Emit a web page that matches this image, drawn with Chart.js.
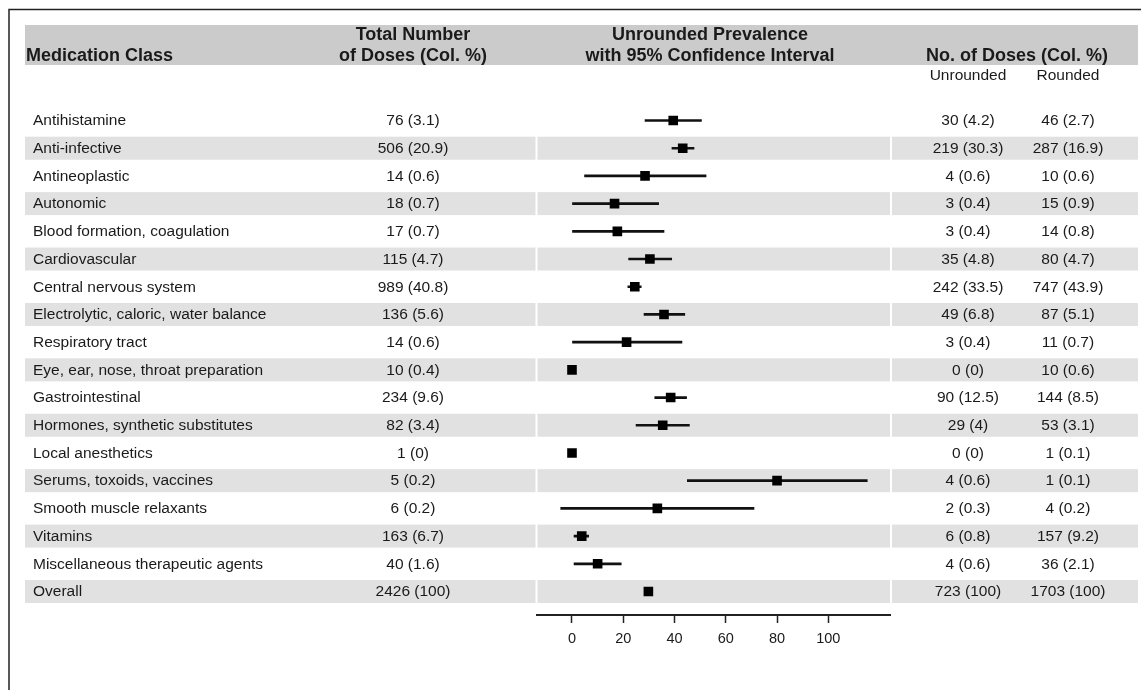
<!DOCTYPE html>
<html>
<head>
<meta charset="utf-8">
<script src="https://cdn.jsdelivr.net/npm/chart.js@4.4.1/dist/chart.umd.min.js"></script>
<style>
    html, body { margin: 0; padding: 0; background: #ffffff; }
    #wrap { position: relative; width: 1141px; height: 690px; }
</style>
</head>
<body>
<div id="wrap"><canvas id="forestChart"></canvas></div>
<script>
// Table rows (top to bottom)
const categories = [
    'Antihistamine', 'Anti-infective', 'Antineoplastic', 'Autonomic',
    'Blood formation, coagulation', 'Cardiovascular', 'Central nervous system',
    'Electrolytic, caloric, water balance', 'Respiratory tract',
    'Eye, ear, nose, throat preparation', 'Gastrointestinal',
    'Hormones, synthetic substitutes', 'Local anesthetics',
    'Serums, toxoids, vaccines', 'Smooth muscle relaxants', 'Vitamins',
    'Miscellaneous therapeutic agents', 'Overall'
];
const totalDoses = [
    '76 (3.1)', '506 (20.9)', '14 (0.6)', '18 (0.7)', '17 (0.7)', '115 (4.7)',
    '989 (40.8)', '136 (5.6)', '14 (0.6)', '10 (0.4)', '234 (9.6)', '82 (3.4)',
    '1 (0)', '5 (0.2)', '6 (0.2)', '163 (6.7)', '40 (1.6)', '2426 (100)'
];
const unroundedDoses = [
    '30 (4.2)', '219 (30.3)', '4 (0.6)', '3 (0.4)', '3 (0.4)', '35 (4.8)',
    '242 (33.5)', '49 (6.8)', '3 (0.4)', '0 (0)', '90 (12.5)', '29 (4)',
    '0 (0)', '4 (0.6)', '2 (0.3)', '6 (0.8)', '4 (0.6)', '723 (100)'
];
const roundedDoses = [
    '46 (2.7)', '287 (16.9)', '10 (0.6)', '15 (0.9)', '14 (0.8)', '80 (4.7)',
    '747 (43.9)', '87 (5.1)', '11 (0.7)', '10 (0.6)', '144 (8.5)', '53 (3.1)',
    '1 (0.1)', '1 (0.1)', '4 (0.2)', '157 (9.2)', '36 (2.1)', '1703 (100)'
];

// Unrounded prevalence with 95% CI
const prevalence = [39.5, 43.2, 28.5, 16.6, 17.7, 30.4, 24.5, 35.9, 21.3, 0, 38.5, 35.4, 0, 80, 33.3, 3.8, 10, 29.8];
const ciLower    = [28.5, 39.0, 4.9, 0, 0, 22.1, 21.8, 28.1, 0, null, 32.3, 25.0, null, 45.0, -4.4, 0.8, 0.8, 28.5];
const ciUpper    = [50.5, 47.6, 52.3, 33.8, 35.9, 38.9, 27.0, 44.0, 42.9, null, 44.7, 45.8, null, 115.2, 71.0, 6.5, 19.2, 31.2];

const xTicks = [0, 20, 40, 60, 80, 100];

// Layout constants
const FONT = "'Liberation Sans', Arial, sans-serif";
const TEXT_COLOR = '#1a1a1a';
const colTotal = 413, colUnrounded = 968, colRounded = 1068;
const bandSegments = [[25, 535.5], [537.5, 890], [892, 1138]];

const tablePlugin = {
    id: 'forestTable',
    beforeDraw(chart) {
        const ctx = chart.ctx;
        const yScale = chart.scales.y;
        ctx.save();

        // frame
        ctx.strokeStyle = '#222';
        ctx.lineWidth = 1.5;
        ctx.beginPath();
        ctx.moveTo(1141, 9.5);
        ctx.lineTo(9, 9.5);
        ctx.lineTo(9, 690);
        ctx.stroke();

        // header band
        ctx.fillStyle = '#cbcbcb';
        ctx.fillRect(25, 25, 1113, 40);

        // alternating row bands
        ctx.fillStyle = '#e1e1e1';
        categories.forEach((c, i) => {
            if (i % 2 === 0) return;
            const y = yScale.getPixelForValue(i);
            bandSegments.forEach(([a, b]) => ctx.fillRect(a, y - 11.5, b - a, 23));
        });

        // header text
        ctx.fillStyle = TEXT_COLOR;
        ctx.textBaseline = 'middle';
        ctx.font = 'bold 18px ' + FONT;
        ctx.textAlign = 'left';
        ctx.fillText('Medication Class', 26, 56);
        ctx.textAlign = 'center';
        ctx.fillText('Total Number', colTotal, 35.5);
        ctx.fillText('of Doses (Col. %)', colTotal, 56);
        ctx.fillText('Unrounded Prevalence', 710, 35.5);
        ctx.fillText('with 95% Confidence Interval', 710, 56);
        ctx.fillText('No. of Doses (Col. %)', 1017, 56);

        ctx.font = '15.5px ' + FONT;
        ctx.fillText('Unrounded', colUnrounded, 76);
        ctx.fillText('Rounded', colRounded, 76);

        // row text
        categories.forEach((c, i) => {
            const y = yScale.getPixelForValue(i) + 0.5;
            ctx.textAlign = 'left';
            ctx.fillText(c, 33, y);
            ctx.textAlign = 'center';
            ctx.fillText(totalDoses[i], colTotal, y);
            ctx.fillText(unroundedDoses[i], colUnrounded, y);
            ctx.fillText(roundedDoses[i], colRounded, y);
        });
        ctx.restore();
    }
};

const ciData = categories.map((c, i) =>
    ciLower[i] === null ? { y: i, x: null } : { y: i, x: [ciLower[i], ciUpper[i]] });
const pointData = categories.map((c, i) => ({ x: prevalence[i], y: i }));

new Chart(document.getElementById('forestChart'), {
    type: 'scatter',
    data: {
        datasets: [
            {
                type: 'scatter',
                label: 'Prevalence',
                data: pointData,
                pointStyle: 'rect',
                pointRadius: 6.8,
                backgroundColor: '#000',
                borderColor: '#000',
                borderWidth: 0
            },
            {
                type: 'bar',
                label: '95% CI',
                indexAxis: 'y',
                data: ciData,
                barThickness: 2,
                backgroundColor: '#111',
                borderWidth: 0
            }
        ]
    },
    options: {
        responsive: true,
        maintainAspectRatio: false,
        animation: false,
        events: [],
        layout: {
            padding: { left: 536.7, right: 251, top: 106.65, bottom: 35 }
        },
        plugins: {
            legend: { display: false },
            tooltip: { enabled: false }
        },
        scales: {
            x: {
                type: 'linear',
                position: 'bottom',
                min: -13.77,
                max: 124.07,
                beginAtZero: false,
                offset: false,
                afterBuildTicks: s => { s.ticks = xTicks.map(v => ({ value: v })); },
                afterFit: s => { s.height = 40; },
                grid: {
                    drawOnChartArea: false,
                    drawTicks: true,
                    tickLength: 8,
                    tickColor: '#222',
                    tickWidth: 1.5,
                    offset: false
                },
                border: { display: true, color: '#222', width: 2 },
                ticks: {
                    color: TEXT_COLOR,
                    padding: 7,
                    maxRotation: 0,
                    font: { family: FONT, size: 14.5 }
                }
            },
            y: {
                type: 'linear',
                display: false,
                reverse: true,
                min: -0.5,
                max: 17.848,
                offset: false,
                grid: { offset: false }
            }
        }
    },
    plugins: [tablePlugin]
});
</script>
</body>
</html>
